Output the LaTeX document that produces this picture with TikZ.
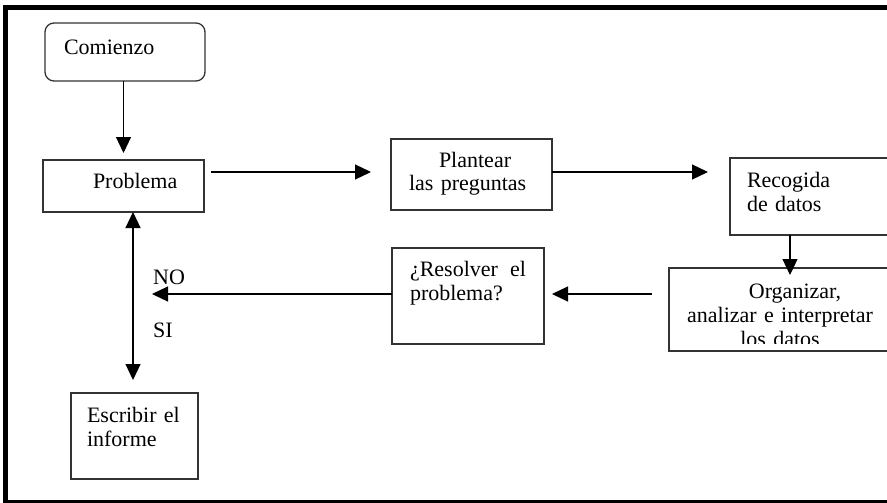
\documentclass[tikz,border=0pt]{standalone}
\usepackage{fontspec}
\setmainfont{Liberation Serif}
\usetikzlibrary{arrows.meta}

\begin{document}
\begin{tikzpicture}[x=1pt,y=-1pt,font=\fontsize{22}{24}\selectfont,
  caja/.style={draw=black!80, line width=1.3pt, inner ysep=0pt, outer sep=0pt, anchor=base west, align=left},
  flecha/.style={line width=1.2pt, -{Triangle[length=16pt,width=15pt]}},
  doble/.style={line width=1.2pt, {Triangle[length=16pt,width=15pt]}-{Triangle[length=16pt,width=15pt]}},
  etiqueta/.style={anchor=base west, inner sep=0pt}]

\useasboundingbox (0,0) rectangle (887,503);
\clip (0,0) rectangle (887,503);

% marco
\draw[line width=5pt] (900,7.5) -- (5.5,7.5) -- (5.5,502) -- (900,502);

\node[caja, rounded corners=9pt, inner xsep=19pt, text width=122pt, text height=32pt, text depth=26pt] (com) at (45,55) {Comienzo};
\node[caja, inner xsep=10pt, text width=141pt, text height=28pt, text depth=24pt] (prob) at (43,188) {\hspace*{40pt}Problema};
\node[caja, inner xsep=18pt, text width=125pt, text height=28pt, text depth=43pt] (plan) at (391,167) {\hspace*{30pt}Plantear\\las preguntas};
\node[caja, inner xsep=17pt, text width=160pt, text height=29pt, text depth=48pt] (rec) at (730,187) {Recogida\\de datos};
\node[caja, align=center, inner xsep=0pt, text width=222pt, text height=30pt, text depth=53pt] (org) at (669,298) {\hspace*{30pt}Organizar,\\analizar e interpretar\\los datos};
% la ultima linea queda cortada
\fill[white] ([xshift=1pt,yshift=0.8pt]org.south west) rectangle ([yshift=7.5pt]org.south east);
\node[caja, inner xsep=18pt, text width=116pt, text height=28pt, text depth=68pt] (res) at (392,276) {\makebox[116pt]{¿Resolver\hfill el}\\problema?};
\node[caja, inner xsep=16pt, text width=95pt, text height=29pt, text depth=57pt] (esc) at (71,422) {Escribir el\\informe};

\coordinate (eje) at ([xshift=-1.5pt]esc.north);

\draw[flecha, shorten >=7pt] (prob.north |- com.south) -- (prob.north);
\draw[flecha, shorten >=20pt] ([xshift=7pt,yshift=14pt]prob.east) coordinate (a1) -- (a1 -| plan.west);
\draw[flecha, shorten >=22pt] ([yshift=2.5pt]plan.east) coordinate (a2) -- (a2 -| rec.west);
\draw[flecha, shorten >=-7pt] ([xshift=60pt]rec.south west) coordinate (a3) -- (a3 |- org.north);
\draw[flecha, shorten >=8pt] ([xshift=-17pt,yshift=15.5pt]org.west) coordinate (a4) -- (a4 -| res.east);
\draw[flecha, shorten >=19pt] ([yshift=2pt]res.west) coordinate (a5) -- (a5 -| eje);
\draw[doble] (eje |- prob.south) -- ([yshift=13pt]eje);

\node[etiqueta] (no) at (153,284) {NO};
\node[etiqueta] (si) at (153,337) {SI};

\end{tikzpicture}
\end{document}
